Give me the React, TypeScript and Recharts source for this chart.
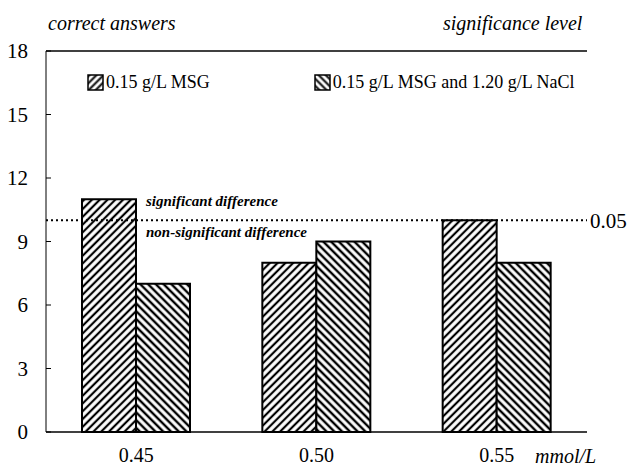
import React from 'react';
import { ComposedChart, Bar, XAxis, YAxis, ReferenceLine } from 'recharts';

const categories = ['0.45', '0.50', '0.55'];
const msgValues = [11, 8, 10];
const msgNaclValues = [7, 9, 8];
const yTicks = [0, 3, 6, 9, 12, 15, 18];
const seriesNames = ['0.15 g/L MSG', '0.15 g/L MSG and 1.20 g/L NaCl'];
const significanceLevel = 10;

const data = categories.map((c, i) => ({ name: c, msg: msgValues[i], msgNacl: msgNaclValues[i] }));

const SERIF = '"Liberation Serif", "DejaVu Serif", serif';

function Hatch({ id, angle, size, width }: { id: string; angle: number; size: number; width: number }) {
  return (
    <pattern id={id} patternUnits="userSpaceOnUse" width={size} height={size} patternTransform={`rotate(${angle})`}>
      <rect width={size} height={size} fill="#fff" />
      <line x1={size / 2} y1={0} x2={size / 2} y2={size} stroke="#000" strokeWidth={width} />
    </pattern>
  );
}

const YTick = (props: any) => {
  const { x, y, payload } = props;
  return (
    <g>
      <line x1={x} y1={y} x2={x + 5} y2={y} stroke="#000" strokeWidth={1} />
      <text x={x - 18} y={y + 7} textAnchor="end" fontFamily={SERIF} fontSize={21} fill="#000">
        {payload.value}
      </text>
    </g>
  );
};

const XTick = (props: any) => {
  const { x, y, payload } = props;
  return (
    <text x={x} y={y + 30} textAnchor="middle" fontFamily={SERIF} fontSize={20} fill="#000">
      {payload.value}
    </text>
  );
};

function Swatch({ id, angle }: { id: string; angle: number }) {
  return (
    <svg width={17} height={17} style={{ display: 'block' }}>
      <defs>
        <Hatch id={id} angle={angle} size={5} width={2} />
      </defs>
      <rect x={1} y={1} width={15} height={15} fill={`url(#${id})`} stroke="#000" strokeWidth={1.5} />
    </svg>
  );
}

export default function App() {
  const text = (s: React.CSSProperties): React.CSSProperties => ({
    position: 'absolute',
    fontFamily: SERIF,
    color: '#000',
    whiteSpace: 'nowrap',
    lineHeight: 1,
    ...s,
  });
  return (
    <div style={{ position: 'absolute', left: 0, top: 0, width: 629, height: 466, background: '#fff' }}>
      <ComposedChart
        width={629}
        height={466}
        data={data}
        margin={{ top: 51, right: 42, left: 0, bottom: 0 }}
        barGap={0}
        barSize={54}
      >
        <defs>
          <Hatch id="fwd" angle={45} size={5.5} width={2.2} />
          <Hatch id="bwd" angle={-45} size={5.5} width={2.4} />
        </defs>
        <XAxis
          dataKey="name"
          height={34}
          axisLine={{ stroke: '#000', strokeWidth: 1.5 }}
          tickSize={0}
          tickMargin={0}
          tickLine={false}
          tick={<XTick />}
        />
        <YAxis
          yAxisId="left"
          width={46}
          domain={[0, 18]}
          ticks={yTicks}
          tickSize={0}
          tickMargin={0}
          axisLine={{ stroke: '#000', strokeWidth: 1 }}
          tickLine={false}
          tick={<YTick />}
        />
        <YAxis
          yAxisId="right"
          orientation="right"
          width={0}
          domain={[0, 18]}
          tick={false}
          tickLine={false}
          axisLine={{ stroke: '#000', strokeWidth: 1.5 }}
        />
        <ReferenceLine yAxisId="left" y={18} stroke="#000" strokeWidth={1.5} />
        <ReferenceLine
          yAxisId="left"
          y={significanceLevel}
          stroke="#000"
          strokeWidth={2}
          strokeDasharray="2 3"
          label={{ value: '0.05', position: 'right', fontFamily: SERIF, fontSize: 21, fill: '#000', offset: 3 }}
        />
        <Bar yAxisId="left" dataKey="msg" fill="url(#fwd)" stroke="#000" strokeWidth={2} isAnimationActive={false} />
        <Bar yAxisId="left" dataKey="msgNacl" fill="url(#bwd)" stroke="#000" strokeWidth={2} isAnimationActive={false} />
      </ComposedChart>

      <div style={text({ left: 48, top: 13, fontSize: 20, fontStyle: 'italic' })}>correct answers</div>
      <div style={text({ left: 443, top: 13, fontSize: 20, fontStyle: 'italic' })}>significance level</div>
      <div style={text({ left: 535, top: 446, fontSize: 20, fontStyle: 'italic' })}>mmol/L</div>
      <div style={text({ left: 146, top: 194, fontSize: 15, fontStyle: 'italic', fontWeight: 'bold' })}>
        significant difference
      </div>
      <div style={text({ left: 146, top: 225, fontSize: 15, fontStyle: 'italic', fontWeight: 'bold' })}>
        non-significant difference
      </div>

      <div style={{ position: 'absolute', left: 87, top: 72, display: 'flex', alignItems: 'center' }}>
        <Swatch id="lg1" angle={45} />
        <span style={{ fontFamily: SERIF, fontSize: 18, marginLeft: 2, marginRight: 104 }}>{seriesNames[0]}</span>
        <Swatch id="lg2" angle={-45} />
        <span style={{ fontFamily: SERIF, fontSize: 18, marginLeft: 2 }}>{seriesNames[1]}</span>
      </div>
    </div>
  );
}
